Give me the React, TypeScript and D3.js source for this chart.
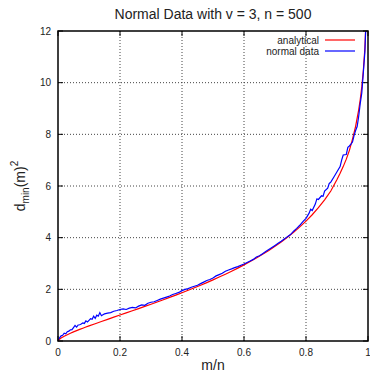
import React from "react";
import * as d3 from "d3";

const analyticX = [0, 0.005, 0.01, 0.02, 0.03, 0.04, 0.05, 0.06, 0.07, 0.08, 0.09, 0.1, 0.12, 0.14, 0.16, 0.18, 0.2, 0.22, 0.24, 0.26, 0.28, 0.3, 0.32, 0.34, 0.36, 0.38, 0.4, 0.42, 0.44, 0.46, 0.48, 0.5, 0.52, 0.54, 0.56, 0.58, 0.6, 0.62, 0.64, 0.66, 0.68, 0.7, 0.72, 0.74, 0.76, 0.78, 0.8, 0.82, 0.84, 0.86, 0.88, 0.9, 0.91, 0.92, 0.93, 0.94, 0.95, 0.96, 0.97, 0.975, 0.98, 0.985, 0.99, 0.995, 0.999];
const analyticY = [0, 0.072, 0.115, 0.185, 0.245, 0.3, 0.352, 0.401, 0.448, 0.494, 0.54, 0.584, 0.67, 0.755, 0.839, 0.922, 1.005, 1.088, 1.171, 1.255, 1.339, 1.424, 1.511, 1.598, 1.687, 1.777, 1.869, 1.963, 2.06, 2.16, 2.261, 2.366, 2.475, 2.587, 2.703, 2.822, 2.946, 3.076, 3.212, 3.355, 3.506, 3.665, 3.833, 4.013, 4.207, 4.416, 4.642, 4.888, 5.16, 5.463, 5.806, 6.251, 6.49, 6.75, 7.04, 7.38, 7.815, 8.311, 8.947, 9.348, 9.837, 10.47, 11.345, 12.838, 16.27];

const dataX = [0, 0.005, 0.01, 0.015, 0.02, 0.025, 0.03, 0.035, 0.04, 0.045, 0.05, 0.055, 0.06, 0.065, 0.07, 0.075, 0.08, 0.085, 0.09, 0.095, 0.1, 0.105, 0.11, 0.115, 0.12, 0.125, 0.13, 0.135, 0.14, 0.145, 0.15, 0.16, 0.17, 0.18, 0.19, 0.2, 0.21, 0.22, 0.23, 0.24, 0.25, 0.26, 0.27, 0.28, 0.29, 0.3, 0.31, 0.32, 0.33, 0.34, 0.35, 0.36, 0.37, 0.38, 0.39, 0.4, 0.41, 0.42, 0.43, 0.44, 0.45, 0.46, 0.47, 0.48, 0.49, 0.5, 0.51, 0.52, 0.53, 0.54, 0.55, 0.56, 0.57, 0.58, 0.59, 0.6, 0.61, 0.62, 0.63, 0.64, 0.65, 0.66, 0.67, 0.68, 0.69, 0.7, 0.71, 0.72, 0.73, 0.74, 0.75, 0.76, 0.77, 0.78, 0.79, 0.8, 0.81, 0.815, 0.82, 0.83, 0.835, 0.84, 0.85, 0.855, 0.86, 0.87, 0.875, 0.88, 0.89, 0.9, 0.91, 0.915, 0.92, 0.93, 0.935, 0.94, 0.945, 0.95, 0.955, 0.96, 0.965, 0.97, 0.975, 0.98, 0.985, 0.99, 0.993, 0.996, 0.999];
const dataY = [0.03, 0.12, 0.2, 0.22, 0.3, 0.28, 0.36, 0.38, 0.43, 0.44, 0.52, 0.6, 0.54, 0.62, 0.63, 0.66, 0.7, 0.68, 0.78, 0.74, 0.8, 0.86, 0.84, 0.96, 0.88, 1.0, 0.96, 1.1, 0.98, 1.02, 1.05, 1.08, 1.1, 1.15, 1.18, 1.22, 1.24, 1.22, 1.27, 1.3, 1.28, 1.35, 1.4, 1.38, 1.46, 1.5, 1.52, 1.57, 1.62, 1.66, 1.7, 1.74, 1.8, 1.84, 1.88, 1.95, 2.0, 2.03, 2.08, 2.12, 2.16, 2.22, 2.28, 2.34, 2.38, 2.44, 2.52, 2.57, 2.62, 2.7, 2.75, 2.79, 2.84, 2.88, 2.93, 2.98, 3.04, 3.1, 3.16, 3.25, 3.3, 3.38, 3.46, 3.54, 3.62, 3.7, 3.78, 3.86, 3.95, 4.04, 4.12, 4.25, 4.36, 4.48, 4.62, 4.75, 4.95, 5.1, 5.05, 5.3, 5.5, 5.48, 5.62, 5.6, 5.8, 5.92, 6.1, 6.15, 6.35, 6.55, 6.75, 7.0, 7.2, 7.22, 7.5, 7.55, 7.62, 7.7, 7.95, 8.15, 8.3, 8.7, 9.2, 9.6, 10.4, 11.2, 12.2, 13.8, 16.0];

const xTicks = [0, 0.2, 0.4, 0.6, 0.8, 1];
const yTicks = [0, 2, 4, 6, 8, 10, 12];
const xTickLabels = ["0", "0.2", "0.4", "0.6", "0.8", "1"];
const yTickLabels = ["0", "2", "4", "6", "8", "10", "12"];
const seriesNames = ["analytical", "normal data"];
const seriesColors = ["#ff0000", "#0000ff"];

const W = 370, H = 373;
const L = 58, R = 368, T = 31, B = 341;
const FONT = "'Liberation Sans', Arial, Helvetica, sans-serif";

export default function App() {
  const x = d3.scaleLinear().domain([0, 1]).range([L, R]);
  const y = d3.scaleLinear().domain([0, 12]).range([B, T]);
  const line = d3.line<[number, number]>().x(d => x(d[0])).y(d => y(d[1]));
  const aPts: [number, number][] = analyticX.map((v, i) => [v, analyticY[i]]);
  const dPts: [number, number][] = dataX.map((v, i) => [v, dataY[i]]);
  const tick = 5;
  return (
    <svg width={W} height={H} style={{ position: "absolute", left: 0, top: 0, background: "#fff" }} fontFamily={FONT}>
      <defs>
        <clipPath id="plotclip">
          <rect x={L} y={T} width={R - L} height={B - T} />
        </clipPath>
      </defs>
      <rect x={0} y={0} width={W} height={H} fill="#fff" />
      {/* grid */}
      {xTicks.slice(1, -1).map(t => (
        <line key={"gx" + t} x1={x(t)} x2={x(t)} y1={T} y2={B} stroke="#444" strokeWidth={1} strokeDasharray="1,2" />
      ))}
      {yTicks.slice(1, -1).map(t => (
        <line key={"gy" + t} x1={L} x2={R} y1={y(t)} y2={y(t)} stroke="#444" strokeWidth={1} strokeDasharray="1,2" />
      ))}
      {/* ticks */}
      {xTicks.map(t => (
        <g key={"tx" + t}>
          <line x1={x(t)} x2={x(t)} y1={B} y2={B - tick} stroke="#000" />
          <line x1={x(t)} x2={x(t)} y1={T} y2={T + tick} stroke="#000" />
        </g>
      ))}
      {yTicks.map(t => (
        <g key={"ty" + t}>
          <line x1={L} x2={L + tick} y1={y(t)} y2={y(t)} stroke="#000" />
          <line x1={R} x2={R - tick} y1={y(t)} y2={y(t)} stroke="#000" />
        </g>
      ))}
      {/* curves */}
      <g clipPath="url(#plotclip)">
        <path d={line(aPts) || ""} fill="none" stroke={seriesColors[0]} strokeWidth={1.2} />
        <path d={line(dPts) || ""} fill="none" stroke={seriesColors[1]} strokeWidth={1.2} />
      </g>
      {/* frame */}
      <rect x={L} y={T} width={R - L} height={B - T} fill="none" stroke="#000" strokeWidth={1.5} />
      {/* tick labels */}
      {xTicks.map((t, i) => (
        <text key={"lx" + t} x={x(t)} y={356} fontSize={10} textAnchor="middle" fill="#222">{xTickLabels[i]}</text>
      ))}
      {yTicks.map((t, i) => (
        <text key={"ly" + t} x={51} y={y(t) + 3.5} fontSize={10} textAnchor="end" fill="#222">{yTickLabels[i]}</text>
      ))}
      {/* title */}
      <text x={(L + R) / 2} y={19} fontSize={14} textAnchor="middle" fill="#222">Normal Data with v = 3, n = 500</text>
      {/* axis labels */}
      <text x={(L + R) / 2} y={370} fontSize={14} textAnchor="middle" fill="#222">m/n</text>
      <text transform="translate(25,186) rotate(-90)" fontSize={14} textAnchor="middle" fill="#222">
        d<tspan fontSize={10} dy={4}>min</tspan><tspan dy={-4}>(m)</tspan><tspan fontSize={10} dy={-7}>2</tspan>
      </text>
      {/* legend */}
      {seriesNames.map((n, i) => (
        <g key={n}>
          <text x={319} y={43.5 + i * 11} fontSize={10} textAnchor="end" fill="#222">{n}</text>
          <line x1={325} x2={355} y1={40 + i * 11} y2={40 + i * 11} stroke={seriesColors[i]} strokeWidth={1.2} />
        </g>
      ))}
    </svg>
  );
}
